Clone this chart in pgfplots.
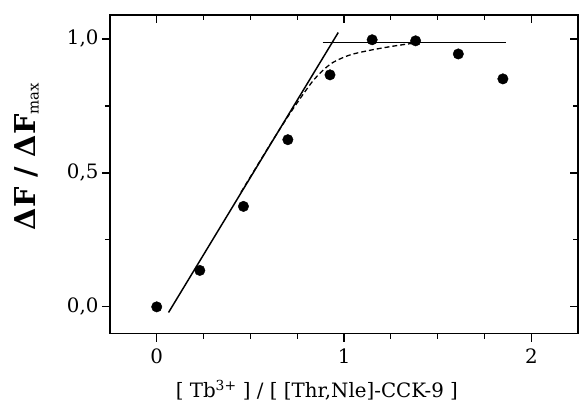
\documentclass[border=0pt]{standalone}
\usepackage{fontspec}
\setmainfont{DejaVu Serif}
\usepackage{pgfplots}
\pgfplotsset{compat=1.18}

\begin{document}
\begin{tikzpicture}
\pgfplotsset{
  base/.style={
    width=473pt, height=322pt, scale only axis,
    xmin=-0.25, xmax=2.25, ymin=-0.1, ymax=1.09,
    xtick={0,1,2}, ytick={0,0.5,1},
    minor x tick num=3, minor y tick num=1,
    major tick length=8pt, minor tick length=5pt,
    every tick/.style={line width=1.2pt, black},
    axis line style={line width=1.5pt},
  }
}
\begin{axis}[base,
  tick align=outside,
  xtick pos=lower, ytick pos=left,
  /pgf/number format/assume math mode=true,
  tick label style={font=\fontsize{20}{24}\selectfont},
  yticklabel style={/pgf/number format/.cd, fixed, fixed zerofill, precision=1, use comma},
  xticklabel style={yshift=-4pt},
  xlabel={[ Tb\textsuperscript{3+} ] / [ [Thr,Nle]-CCK-9 ]},
  ylabel={\bfseries ΔF / ΔF\textsubscript{\normalfont\fontsize{15}{16}\selectfont max}},
  xlabel style={font=\fontsize{20}{24}\selectfont, at={(axis description cs:0.442,-0.177)}, anchor=center},
  ylabel style={font=\fontsize{29}{32}\selectfont, at={(axis description cs:-0.178,0.556)}, anchor=center},
]
% solid linear fit (initial slope)
\addplot[line width=1.5pt, black] coordinates {(0.063,-0.021) (0.969,1.024)};
% plateau
\addplot[line width=1.5pt, black] coordinates {(0.886,0.987) (1.866,0.987)};
% dashed fitted binding curve
\addplot[line width=1.3pt, black, dash pattern=on 5pt off 3pt, smooth] coordinates {
(0.45,0.428) (0.60,0.600) (0.70,0.710) (0.77,0.782) (0.83,0.840)
(0.88,0.878) (0.94,0.912) (1.03,0.940) (1.14,0.958) (1.27,0.974) (1.38,0.985)};
% data
\addplot[only marks, mark=*, mark size=5.3pt, black] coordinates {
(0,0.0) (0.23,0.136) (0.463,0.375) (0.70,0.624) (0.925,0.866)
(1.15,0.997) (1.382,0.993) (1.61,0.944) (1.848,0.851)};
\end{axis}
\begin{axis}[base,
  tick align=inside,
  xtick pos=upper, ytick pos=right,
  xticklabels={}, yticklabels={},
]
\end{axis}
\path (current axis.north east) ++(1pt,15pt);
\path (current axis.south west) ++(-111pt,-80pt);
\end{tikzpicture}
\end{document}
